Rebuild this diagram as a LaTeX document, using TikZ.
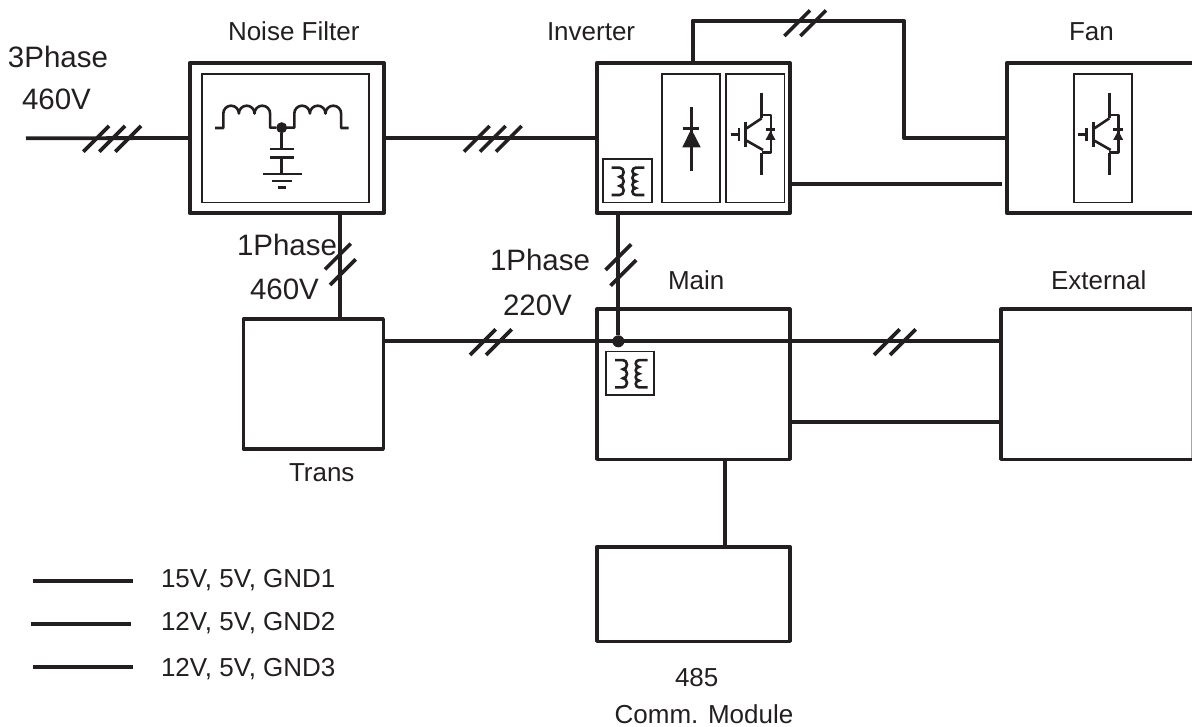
\documentclass[tikz,border=0pt]{standalone}
\usepackage{fontspec}
\setmainfont{Liberation Sans}
\definecolor{ink}{HTML}{231F20}
\newcommand{\BX}[6]{\node[#6,minimum width={(#4-(#2))*1pt},minimum height={(#5-(#3))*1pt}] (#1) at ({(#2+#4)/2},{(#3+#5)/2}) {};}
\newcommand{\SLASH}[2]{\draw[slashline] (#1,#2) -- ++(25.7,-25.7);}
\newcommand{\IGBT}[2]{\begin{scope}[shift={(#1,#2)}]
  \draw[sym] (35.7,18.7) -- (35.7,44.3) (35.7,78.7) -- (35.7,101);
  \draw[sym,line join=round] (35.7,41) -- (45,41) -- (45,78.7) -- (35.7,78.7);
  \draw[sym] (4.7,60.3) -- (13,60.3);
  \draw[sym] (13,54.3) -- (13,66.7);
  \draw[sym,line width=3pt] (19.7,47.7) -- (19.7,72.7);
  \draw[sym] (20.7,54.3) -- (35.7,44.3) (20.7,66.7) -- (37,76);
  \draw[sym] (39.7,55.3) -- (49.3,55.3);
  \fill[ink] (44.5,56.7) -- (39.5,66) -- (49.5,66) -- cycle;
\end{scope}}
\newcommand{\XFMR}[2]{\begin{scope}[shift={(#1,#2)}]
  \draw[sym] (9,8.4) -- (17,8.4) arc (-90:90:4 and 4.55) arc (-90:90:4 and 4.55) arc (-90:90:4 and 4.55) -- (9,35.7);
  \draw[sym] (41.6,8.4) -- (33,8.4) arc (270:90:3.3 and 3.41) arc (270:90:3.3 and 3.41) arc (270:90:3.3 and 3.41) arc (270:90:3.3 and 3.41) -- (41.6,35.7);
\end{scope}}
\tikzset{
  x=1pt,y=-1pt,
  every node/.style={inner sep=0pt,outer sep=0pt,text=ink},
  heavybox/.style={draw=ink,line width=4pt,line join=round,rectangle},
  plainbox/.style={draw=ink,line width=3.6pt,line join=round,rectangle},
  thinbox/.style={draw=ink,line width=1.6pt,rectangle,fill=white},
  ghost/.style={rectangle},
  wire/.style={draw=ink,line width=3.8pt},
  sym/.style={draw=ink,line width=2.6pt},
  slashline/.style={draw=ink,line width=3.6pt},
  junction/.style={circle,fill=ink,minimum size=12pt},
  smalljunction/.style={circle,fill=ink,minimum size=11pt},
  lab/.style={anchor=base west,font=\fontsize{26}{30}\selectfont},
  biglab/.style={anchor=base west,font=\fontsize{29.5}{34}\selectfont},
}
\begin{document}
\begin{tikzpicture}
\useasboundingbox (0,0) rectangle (1192,727);
% boxes
\BX{nf}{189.5}{63}{384}{213}{heavybox}
\BX{nfin}{201.7}{74}{368.7}{202.7}{thinbox}
\BX{inv}{596.7}{63}{790}{213}{heavybox}
\BX{dbox}{662}{74}{720}{202.7}{thinbox}
\BX{ibox}{726}{74}{784.3}{202.7}{thinbox}
\BX{xa}{602.7}{159.3}{651.7}{202.7}{thinbox}
\BX{fan}{1006.7}{63}{1200}{213}{ghost}
\draw[heavybox] (1197,63) -- (fan.north west) -- (fan.south west) -- (1197,213);
\BX{fbox}{1073.7}{74}{1132}{202.7}{thinbox}
\BX{main}{596.7}{309.3}{790}{459.3}{plainbox}
\BX{ext}{1001}{309.3}{1191.4}{459.3}{ghost}
\draw[draw=black!35,line width=1pt] (ext.north east) -- (ext.south east);
\draw[plainbox] (1197,309.3) -- (ext.north west) -- (ext.south west) -- (1197,459.3);
\BX{comm}{596.7}{546.7}{790}{641.3}{plainbox}
\BX{xb}{606}{351.7}{654}{395}{thinbox}
\BX{tr}{243.3}{319.3}{383.3}{449}{plainbox}
% connectors
\coordinate (inp) at (26,138.3);
\coordinate (c1) at (692.7,20.7);
\coordinate (c2) at (903.7,20.7);
\coordinate (c3) at (903.7,137.7);
\coordinate (c4) at (1001.7,184.3);
\coordinate (c5) at (340.3,300);
\coordinate (c6) at (618.3,300);
\coordinate (c7) at (725.3,500);
\coordinate (c8) at (790,421.7);
\coordinate (c9) at (800,341.3);
\node[junction] (j1) at (618.3,341.3) {};
\draw[wire] (inp) -- (nf.west);
\draw[wire] (nf.east) -- (inv.west);
\draw[wire,line join=round] (c1 |- inv.north) -- (c1) -- (c2) -- (c3) -- (c3 -| fan.west);
\draw[wire] (c4 -| inv.east) -- (c4);
\draw[wire] (c5 |- nf.south) -- (c5 |- tr.north);
\draw[wire] (c6 |- inv.south) -- (j1);
\draw[wire] (c9 -| tr.east) -- (c9 -| ext.west);
\draw[wire] (c8) -- (c8 -| ext.west);
\draw[wire] (c7 |- main.south) -- (c7 |- comm.north);
% slashes
\SLASH{83.3}{151.7}\SLASH{99.3}{151.7}\SLASH{115.3}{151.7}
\SLASH{464}{151.7}\SLASH{480}{151.7}\SLASH{496}{151.7}
\SLASH{470}{355}\SLASH{486}{355}
\SLASH{874}{355}\SLASH{890}{355}
\SLASH{784.3}{36}\SLASH{800.3}{36}
\SLASH{325}{269.3}\SLASH{330}{285}
\SLASH{605.5}{270}\SLASH{610.5}{285.7}
% noise filter symbol
\node[smalljunction] (j2) at (281.7,127.7) {};
\draw[sym,line join=round] (215,128) -- (223.3,128) -- (223.3,113.5) arc (180:360:7.8) arc (180:360:7.8) arc (180:360:7.8) -- (270.1,127.7) -- (j2);
\draw[sym,line join=round] (j2) -- (294.3,127.7) -- (294.3,113.5) arc (180:360:7.8) arc (180:360:7.8) arc (180:360:7.8) -- (341.1,128) -- (348.5,128);
\draw[sym] (j2) -- (281.7,149) (270,149) -- (294,149) (270,157.7) -- (294,157.7) (281.7,157.7) -- (281.7,174);
\draw[sym] (262.7,174) -- (301.7,174) (271.7,181) -- (291.7,181) (277.7,187.5) -- (286,187.5);
% diode
\draw[sym] (691.3,106.7) -- (691.3,171) (682.7,128.3) -- (699.3,128.3);
\fill[ink] (691.3,129) -- (682.3,147.3) -- (700.7,147.3) -- cycle;
% switches and transformers
\IGBT{726}{74}
\IGBT{1073.7}{74}
\XFMR{602.7}{159.3}
\XFMR{606}{351.7}
% labels
\node[lab] (t1) at (228,41) {Noise Filter};
\node[lab] (t2) at (547,41) {Inverter};
\node[lab] (t3) at (1069,41) {Fan};
\node[lab] (t4) at (668,290) {Main};
\node[lab] (t5) at (1051,290) {External};
\node[lab] (t6) at (289,481) {Trans};
\node[biglab] (t7) at (8,68) {3Phase};
\node[biglab] (t8) at (22,110) {460V};
\node[biglab] (t9) at (237,256) {1Phase};
\node[biglab] (t10) at (250,300) {460V};
\node[biglab] (t11) at (490,271) {1Phase};
\node[biglab] (t12) at (503,316) {220V};
\node[lab,anchor=base] (t13) at (696.7,686) {485};
\node[lab,anchor=base] (t14) at (704,723.5) {Comm. Module};
% legend
\coordinate (l1a) at (33,581); \coordinate (l1b) at (132.5,581);
\coordinate (l2a) at (31,624); \coordinate (l2b) at (131,624);
\coordinate (l3a) at (33,667); \coordinate (l3b) at (133,667);
\draw[wire] (l1a) -- (l1b);
\draw[wire] (l2a) -- (l2b);
\draw[wire] (l3a) -- (l3b);
\node[lab] (t15) at (161,587) {15V, 5V, GND1};
\node[lab] (t16) at (161,630) {12V, 5V, GND2};
\node[lab] (t17) at (161,676) {12V, 5V, GND3};
\end{tikzpicture}
\end{document}
